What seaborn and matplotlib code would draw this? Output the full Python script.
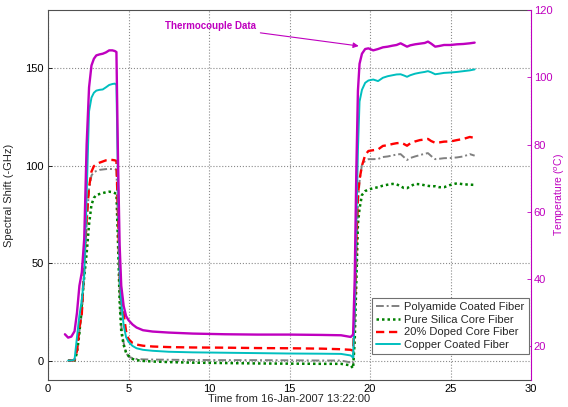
import numpy as np
import pandas as pd
import matplotlib
matplotlib.use("Agg")
import matplotlib.pyplot as plt
import seaborn as sns

# time in minutes from 16-Jan-2007 13:22:00
time = [1.05, 1.25, 1.45, 1.65, 1.8, 1.95, 2.1, 2.25, 2.4, 2.55, 2.7, 2.85, 3.0, 3.2, 3.4,
        3.6, 3.8, 4.0, 4.15, 4.25, 4.35, 4.45, 4.55, 4.7, 4.85, 5.0, 5.25, 5.5, 5.9, 6.5,
        7.5, 9.0, 11.0, 13.0, 15.0, 17.0, 18.2, 18.8, 18.95, 19.05, 19.15, 19.25, 19.35, 19.5,
        19.7, 19.9, 20.2, 20.5, 20.8, 21.1, 21.4, 21.65, 21.9, 22.1, 22.3, 22.5, 22.8, 23.1,
        23.4, 23.6, 23.8, 24.05, 24.3, 24.6, 25.0, 25.4, 25.8, 26.2, 26.5]

polyamide = [np.nan, 0, 0, 0.2, 5, 15, 24, 45, 70, 88, 95, 96.8, 97.3, 97.9, 98.1,
             98.3, 98.4, 98.3, 98.3, 98, 70, 35, 18, 9, 4, 2, 1.2, 0.8, 0.6, 0.5,
             0.4, 0.3, 0.2, 0.2, 0.1, 0, 0, -1, -1.5, 20, 50, 80, 92, 100.5,
             102.5, 103.4, 103.4, 103.5, 104.5, 104.8, 105.3, 105.8, 106, 104.5, 103, 104, 104.8, 105.5,
             106.2, 106.5, 105, 103.4, 103.6, 103.9, 104, 104.3, 104.8, 106, 105.2]

silica = [np.nan, 0, 0, 0, 4, 14, 29, 43, 55, 70, 80, 83.5, 85, 85.5, 86,
          86.4, 86.7, 86.5, 86, 85.5, 60, 30, 15, 8, 4, 2.5, 0.8, 0.2, -0.2, -0.5,
          -0.8, -1.1, -1.3, -1.5, -1.6, -1.7, -1.7, -2.5, -4, 10, 40, 70, 78, 85,
          87, 87.8, 88.5, 89, 89.8, 90.3, 90.7, 90.5, 89.5, 88.6, 88.5, 89.5, 90.7, 90.5,
          90, 89.7, 89.5, 89.5, 89, 89, 90.2, 91, 90.5, 90.3, 90.2]

doped = [np.nan, 0, 0, 0.3, 5, 17, 24, 50, 73, 89, 97, 99.8, 100.8, 101.6, 102.2,
         102.8, 103, 103, 102.8, 102.5, 75, 45, 30, 24, 15, 11, 9, 8.2, 7.6, 7.2,
         6.9, 6.7, 6.6, 6.4, 6.3, 6.1, 5.8, 5.5, 5, 25, 60, 85, 93, 100,
         105.5, 107.6, 108, 108.4, 110.2, 110.6, 111.2, 111.6, 111.8, 111.2, 110.3, 111.5, 112.5, 113.2,
         113.5, 113.8, 112.7, 111.8, 112, 112.4, 112.5, 113.2, 113.8, 114.8, 114.3]

copper = [np.nan, 0, 0, 0.5, 12, 23, 31, 44, 85, 128, 135, 137.5, 138.6, 139, 139.2,
          140.3, 141.5, 142, 142.2, 141.5, 90, 45, 30, 18, 12, 9.6, 7.5, 6.3, 5.5, 5,
          4.5, 4.2, 4.0, 3.8, 3.6, 3.5, 3.4, 2.6, 1.5, 25, 70, 108, 133, 139,
          142.6, 143.8, 144.3, 143.5, 145.2, 146, 146.5, 146.9, 147, 146.4, 145.7, 146.5, 147.3, 147.8,
          148.2, 148.6, 148, 147, 147.3, 147.7, 147.9, 148.2, 148.6, 149, 149.5]

thermocouple = [23.6, 22.6, 22.9, 24.5, 30, 38, 42, 52, 80, 97, 103.5, 105.5, 106.5, 106.8, 107,
                107.4, 108, 108, 107.8, 107.5, 75, 50, 38, 32, 29, 27.8, 26.5, 25.6, 24.8, 24.4,
                24.1, 23.8, 23.6, 23.5, 23.5, 23.4, 23.3, 22.8, 23.5, 40, 72, 96, 104, 107,
                108.4, 108.6, 108, 108.4, 108.9, 109.1, 109.4, 109.6, 110.1, 109.6, 109.1, 109.5, 109.8, 110.0,
                110.2, 110.6, 110.0, 109.1, 109.3, 109.6, 109.6, 109.8, 109.9, 110.1, 110.3]

fiber_names = ['Polyamide Coated Fiber', 'Pure Silica Core Fiber',
               '20% Doped Core Fiber', 'Copper Coated Fiber']
fiber_values = [polyamide, silica, doped, copper]
fiber_colors = ['#808080', '#008000', '#FF0000', '#00BFBF']
fiber_styles = [(0, (4, 1.5, 1, 1.5)), (0, (1, 1.2)), (0, (3.5, 2)), '-']
fiber_widths = [1.4, 1.8, 1.7, 1.4]

magenta = '#BF00BF'

sns.set_theme(style="white")
plt.rcParams['font.family'] = ['Liberation Sans', 'DejaVu Sans']
plt.rcParams['font.size'] = 8

fig = plt.figure(figsize=(5.68, 4.07), dpi=100)
ax = fig.add_axes([48 / 568, 1 - 380 / 407, (531 - 48) / 568, 370 / 407])

for name, vals, col, ls, lw in zip(fiber_names, fiber_values, fiber_colors, fiber_styles, fiber_widths):
    df = pd.DataFrame({'t': time, 'v': vals}).dropna()
    sns.lineplot(data=df, x='t', y='v', ax=ax, color=col, linestyle=ls, linewidth=lw,
                 label=name, legend=False)

ax.set_xlim(0, 30)
ax.set_ylim(-10, 180)
ax.set_xticks(range(0, 31, 5))
ax.set_yticks([0, 50, 100, 150])
ax.grid(True, linestyle=':', color='#8a8a8a', linewidth=0.8)
ax.tick_params(direction='in', length=3, labelsize=8, colors='black', width=0.6, pad=3)
ax.set_xlabel('Time from 16-Jan-2007 13:22:00', fontsize=8, labelpad=0)
ax.set_ylabel('Spectral Shift (-GHz)', fontsize=8, labelpad=8)
for s in ['left', 'bottom', 'top']:
    ax.spines[s].set_color('#505050')
    ax.spines[s].set_linewidth(0.8)
ax.spines['right'].set_visible(False)

ax2 = ax.twinx()
tdf = pd.DataFrame({'t': time, 'T': thermocouple})
sns.lineplot(data=tdf, x='t', y='T', ax=ax2, color=magenta, linewidth=1.7, legend=False)
ax2.set_ylim(10, 120)
ax2.set_yticks(range(20, 121, 20))
ax2.set_ylabel('Temperature ($^{o}$C)', color=magenta, fontsize=7.5, labelpad=0)
ax2.tick_params(axis='y', direction='in', length=3, colors=magenta, labelcolor=magenta,
                labelsize=8, width=0.6, pad=2)
for s in ['left', 'bottom', 'top']:
    ax2.spines[s].set_visible(False)
ax2.spines['right'].set_color(magenta)
ax2.spines['right'].set_linewidth(0.8)

ax2.annotate('Thermocouple Data', xy=(19.3, 109.3), xytext=(12.9, 115.2),
             color=magenta, fontsize=7, fontweight='bold', ha='right', va='center',
             arrowprops=dict(arrowstyle='-|>', color=magenta, lw=0.8,
                             mutation_scale=8, shrinkA=1, shrinkB=0))

handles, labels = ax.get_legend_handles_labels()
leg = ax2.legend(handles, labels, loc='lower right', bbox_to_anchor=(0.995, 0.07),
                 fontsize=8, frameon=True, fancybox=False, framealpha=1,
                 edgecolor='#707070', handlelength=2.2, handletextpad=0.4,
                 borderpad=0.35, labelspacing=0.25, borderaxespad=0)
leg.get_frame().set_linewidth(0.8)

fig.savefig('out.png', dpi=100, facecolor='white')
